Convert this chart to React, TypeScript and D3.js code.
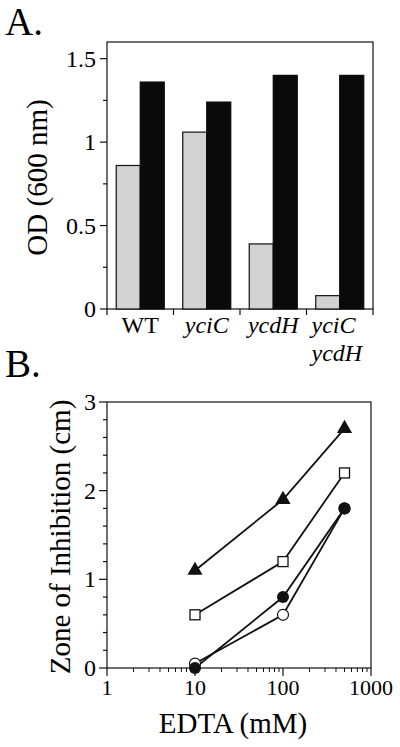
import React from "react";
import * as d3 from "d3";

const strains = ["WT", "yciC", "ycdH", "yciC ycdH"];
const seriesKeys = ["gray", "black"];
const odGray = [0.86, 1.06, 0.39, 0.08];
const odBlack = [1.36, 1.24, 1.4, 1.4];
const odTicks = [0, 0.5, 1, 1.5];

const edta = [10, 100, 500];
const triFilled = [1.1, 1.9, 2.7];
const sqOpen = [0.6, 1.2, 2.2];
const circOpen = [0.05, 0.6, 1.8];
const circFilled = [0, 0.8, 1.8];
const zoneTicks = [0, 1, 2, 3];
const edtaTicks = [1, 10, 100, 1000];

const FONT = "'Liberation Serif', 'Times New Roman', serif";

export default function App() {
  // Panel A
  const aL = 107, aR = 373, aT = 42, aB = 309;
  const yA = d3.scaleLinear().domain([0, 1.6]).range([aB, aT]);
  const xA = d3.scaleBand().domain(strains).range([aL, aR]);
  const xSub = d3.scaleBand().domain(seriesKeys).range([0, xA.bandwidth()]).paddingOuter(0.385);
  const minorA = d3.range(0, 1.51, 0.25);

  // Panel B
  const bL = 107, bR = 371, bT = 402, bB = 668;
  const xB = d3.scaleLog().domain([1, 1000]).range([bL, bR]);
  const yB = d3.scaleLinear().domain([0, 3]).range([bB, bT]);
  const minorB = d3.range(0, 3.01, 0.2);
  const minorX: number[] = [];
  for (const dec of [1, 10, 100]) for (let k = 2; k <= 9; k++) minorX.push(dec * k);
  const line = d3.line<[number, number]>().x(d => xB(d[0])).y(d => yB(d[1]));
  const pts = (ys: number[]) => edta.map((x, i) => [x, ys[i]] as [number, number]);

  const triPath = d3.symbol().type(d3.symbolTriangle).size(100)();

  return (
    <svg width={400} height={747} style={{ display: "block", position: "absolute", left: 0, top: 0, background: "#fff" }} fontFamily={FONT}>
      <text x={5} y={35} fontSize={39}>A.</text>
      {/* Panel A frame */}
      <rect x={aL} y={aT} width={aR - aL} height={aB - aT} fill="none" stroke="#111" strokeWidth={1.2} />
      {strains.map((s, i) => (
        <g key={s}>
          <rect x={(xA(s) as number) + (xSub("gray") as number)} y={yA(odGray[i])} width={xSub.bandwidth()} height={yA(0) - yA(odGray[i])} fill="#d2d2d2" stroke="#111" strokeWidth={1.2} />
          <rect x={(xA(s) as number) + (xSub("black") as number)} y={yA(odBlack[i])} width={xSub.bandwidth()} height={yA(0) - yA(odBlack[i])} fill="#0a0a0a" stroke="#0a0a0a" strokeWidth={1.2} />
        </g>
      ))}
      {minorA.map(v => (
        <line key={"ma" + v} x1={aL - (odTicks.includes(v) ? 7 : 4)} x2={aL} y1={yA(v)} y2={yA(v)} stroke="#111" strokeWidth={1.2} />
      ))}
      {odTicks.map(v => (
        <text key={"ta" + v} x={96} y={yA(v) + 8} fontSize={24} textAnchor="end">{String(v)}</text>
      ))}
      {[aL, ...strains.map(s => (xA(s) as number) + xA.bandwidth())].map((x, i) => (
        <line key={"xa" + i} x1={x} x2={x} y1={aB} y2={aB + 6} stroke="#111" strokeWidth={1.2} />
      ))}
      {strains.map(s => {
        const cx = (xA(s) as number) + xA.bandwidth() / 2;
        if (s === "WT") return <text key={s} x={cx} y={333} fontSize={24} textAnchor="middle">WT</text>;
        const parts = s.split(" ");
        if (parts.length === 1)
          return <text key={s} x={cx} y={333} fontSize={24} textAnchor="middle" fontStyle="italic">{s}</text>;
        const left = (xA(s) as number) + 5;
        return (
          <text key={s} x={left} y={333} fontSize={24} fontStyle="italic">
            {parts.map((p, j) => (
              <tspan key={p} x={left} dy={j === 0 ? 0 : 28}>{p}</tspan>
            ))}
          </text>
        );
      })}
      <text transform={`translate(47,${(aT + aB) / 2 + 2}) rotate(-90)`} fontSize={29} textAnchor="middle">OD (600 nm)</text>

      {/* Panel B */}
      <text x={5} y={377} fontSize={39}>B.</text>
      <rect x={bL} y={bT} width={bR - bL} height={bB - bT} fill="none" stroke="#111" strokeWidth={1.2} />
      {minorB.map(v => {
        const major = Math.abs(v - Math.round(v)) < 1e-6;
        return <line key={"mb" + v} x1={bL - (major ? 8 : 4)} x2={bL} y1={yB(v)} y2={yB(v)} stroke="#111" strokeWidth={1.2} />;
      })}
      {zoneTicks.map(v => (
        <text key={"tb" + v} x={96} y={yB(v) + 8} fontSize={24} textAnchor="end">{v}</text>
      ))}
      {edtaTicks.map(v => (
        <line key={"xb" + v} x1={xB(v)} x2={xB(v)} y1={bB} y2={bB + 8} stroke="#111" strokeWidth={1.2} />
      ))}
      {minorX.map(v => (
        <line key={"xm" + v} x1={xB(v)} x2={xB(v)} y1={bB} y2={bB + 4} stroke="#111" strokeWidth={1} />
      ))}
      {edtaTicks.map(v => (
        <text key={"lb" + v} x={xB(v)} y={695} fontSize={22} textAnchor="middle">{v}</text>
      ))}
      <text x={233} y={733} fontSize={29} textAnchor="middle">EDTA (mM)</text>
      <text transform={`translate(70,${(bT + bB) / 2 + 2}) rotate(-90)`} fontSize={29} textAnchor="middle">Zone of Inhibition (cm)</text>

      {[triFilled, sqOpen, circOpen, circFilled].map((ys, i) => (
        <path key={"ln" + i} d={line(pts(ys)) as string} fill="none" stroke="#111" strokeWidth={1.8} />
      ))}
      {pts(circOpen).map(([x, y], i) => (
        <circle key={"co" + i} cx={xB(x)} cy={yB(y)} r={5.5} fill="#fff" stroke="#111" strokeWidth={1.2} />
      ))}
      {pts(circFilled).map(([x, y], i) => (
        <circle key={"cf" + i} cx={xB(x)} cy={yB(y)} r={6} fill="#111" />
      ))}
      {pts(sqOpen).map(([x, y], i) => (
        <rect key={"sq" + i} x={xB(x) - 5} y={yB(y) - 5} width={10} height={10} fill="#fff" stroke="#111" strokeWidth={1.3} />
      ))}
      {pts(triFilled).map(([x, y], i) => (
        <path key={"tr" + i} d={triPath as string} transform={`translate(${xB(x)},${yB(y)})`} fill="#111" />
      ))}
    </svg>
  );
}
